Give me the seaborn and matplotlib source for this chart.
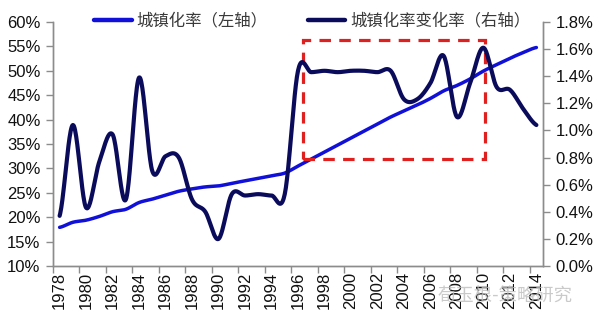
import numpy as np
import pandas as pd
import matplotlib
matplotlib.use("Agg")
import matplotlib.pyplot as plt
from matplotlib.patches import Rectangle
from matplotlib.lines import Line2D
from matplotlib.ticker import FixedLocator, NullFormatter, FuncFormatter
import seaborn as sns

# Urbanization rate (%) and its yearly change (percentage points)
years = list(range(1978, 2015))
urban_rate = [17.92, 18.96, 19.39, 20.16, 21.13, 21.62, 23.01, 23.71, 24.52, 25.32,
              25.81, 26.21, 26.41, 26.94, 27.46, 27.99, 28.51, 29.04, 30.48, 31.91,
              33.35, 34.78, 36.22, 37.66, 39.09, 40.53, 41.76, 42.99, 44.34, 45.89,
              46.99, 48.34, 49.95, 51.27, 52.57, 53.73, 54.77]
urban_change = [0.37, 1.04, 0.43, 0.77, 0.97, 0.49, 1.39, 0.70, 0.81, 0.80,
                0.49, 0.40, 0.20, 0.53, 0.52, 0.53, 0.52, 0.53, 1.44, 1.43,
                1.44, 1.43, 1.44, 1.44, 1.43, 1.44, 1.23, 1.23, 1.35, 1.55,
                1.10, 1.35, 1.61, 1.32, 1.30, 1.16, 1.04]
year_labels = [str(y) for y in years[::2]]
label_left = "城镇化率（左轴）"
label_right = "城镇化率变化率（右轴）"
watermark = "荀玉根-策略研究"

# highlighted period (category index span, right-axis value span)
box_x = (18.35, 32.1)
box_y = (0.787, 1.667)

BLUE = "#1010d8"
NAVY = "#0b0b5c"
RED = "#e01f1f"
GRID_GRAY = "#8c8c8c"


def smooth(y, steps=24):
    """Catmull-Rom smoothing, like a spreadsheet 'smoothed line'."""
    y = np.asarray(y, dtype=float)
    n = len(y)
    p = np.concatenate([[y[0]], y, [y[-1]]])
    xs, ys = [], []
    for i in range(n - 1):
        p0, p1, p2, p3 = p[i], p[i + 1], p[i + 2], p[i + 3]
        t = np.linspace(0, 1, steps, endpoint=False)
        c1 = p1 + (p2 - p0) / 6.0
        c2 = p2 - (p3 - p1) / 6.0
        b = ((1 - t) ** 3) * p1 + 3 * ((1 - t) ** 2) * t * c1 + 3 * (1 - t) * t ** 2 * c2 + t ** 3 * p2
        xs.append(i + t)
        ys.append(b)
    xs.append([n - 1])
    ys.append([y[-1]])
    return np.concatenate(xs), np.concatenate(ys)


sns.set_style("white")
plt.rcParams["font.family"] = ["Liberation Sans", "Noto Sans CJK SC", "DejaVu Sans"]

fig = plt.figure(figsize=(6.0, 3.27), dpi=100)
ax = fig.add_axes([53 / 600, 1 - 266 / 327, (543 - 53) / 600, (266 - 22) / 327])
ax2 = ax.twinx()

xs, ys = smooth(urban_rate)
df_left = pd.DataFrame({"x": xs, "y": ys})
sns.lineplot(data=df_left, x="x", y="y", ax=ax, color=BLUE, lw=2.5, sort=False,
             estimator=None, solid_capstyle="round")

xs2, ys2 = smooth(urban_change)
df_right = pd.DataFrame({"x": xs2, "y": ys2})
sns.lineplot(data=df_right, x="x", y="y", ax=ax2, color=NAVY, lw=3.0, sort=False,
             estimator=None, solid_capstyle="round")

# dashed highlight box
ax2.add_patch(Rectangle((box_x[0], box_y[0]), box_x[1] - box_x[0], box_y[1] - box_y[0],
                        fill=False, edgecolor=RED, lw=2.3, linestyle=(0, (3.6, 2.6)),
                        zorder=1))

n = len(years)
for a in (ax, ax2):
    a.set_xlim(-0.5, n - 0.5)
    a.set_xlabel("")
    a.set_ylabel("")
    a.spines["top"].set_visible(False)
    for s in ("left", "right", "bottom"):
        a.spines[s].set_color(GRID_GRAY)
        a.spines[s].set_linewidth(1.0)

ax.set_ylim(10, 60)
ax.set_yticks(np.arange(10, 61, 5))
ax.yaxis.set_major_formatter(FuncFormatter(lambda v, p: f"{v:.0f}%"))
ax2.set_ylim(0, 1.8)
ax2.set_yticks(np.arange(0, 1.81, 0.2))
ax2.yaxis.set_major_formatter(FuncFormatter(lambda v, p: f"{v:.1f}%"))

# category axis: ticks at boundaries, labels on every other category
ax.xaxis.set_major_locator(FixedLocator(np.arange(-0.5, n, 2)))
ax.xaxis.set_major_formatter(NullFormatter())
ax.xaxis.set_minor_locator(FixedLocator(np.arange(0, n, 2)))
ax.set_xticklabels(year_labels, minor=True, rotation=90)
ax.tick_params(axis="x", which="major", direction="out", length=5, width=1, color=GRID_GRAY, bottom=True)
ax.tick_params(axis="x", which="minor", length=0, pad=4, labelsize=12, labelcolor="#111111")
ax.tick_params(axis="y", direction="out", length=5, width=1, color=GRID_GRAY, left=True,
               labelsize=12, labelcolor="#111111", pad=4)
ax2.tick_params(axis="y", direction="out", length=5, width=1, color=GRID_GRAY, right=True,
                labelsize=12, labelcolor="#111111", pad=4)
ax2.tick_params(axis="x", bottom=False, labelbottom=False)

handles = [Line2D([], [], color=BLUE, lw=3.2), Line2D([], [], color=NAVY, lw=3.2)]
fig.legend(handles, [label_left, label_right], loc="center left",
           bbox_to_anchor=(94 / 600, 1 - 21 / 327), ncol=2, frameon=False,
           borderpad=0, borderaxespad=0, handlelength=2.3, handletextpad=0.3,
           columnspacing=2.45,
           prop={"family": ["Noto Sans CJK SC", "DejaVu Sans"], "size": 11.8},
           labelcolor="#3a3a3a")

# faint source mark along the lower right edge
fig.text(438 / 600, 1 - 297 / 327, watermark, fontsize=13.2, color="#bdbdbd", alpha=0.8,
         family=["Noto Sans CJK SC", "DejaVu Sans"], va="center", ha="left", zorder=10)

fig.savefig("out.png", dpi=100)
